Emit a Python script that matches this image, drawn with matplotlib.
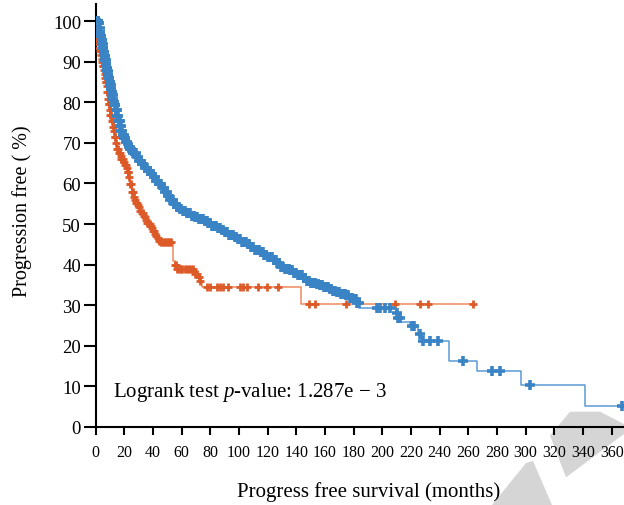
import numpy as np
import matplotlib
matplotlib.use("Agg")
import matplotlib.pyplot as plt
from matplotlib.patches import Polygon

plt.rcParams["font.family"] = ["Liberation Serif", "DejaVu Serif"]
plt.rcParams["mathtext.fontset"] = "custom"
plt.rcParams["mathtext.rm"] = "Liberation Serif"
plt.rcParams["mathtext.it"] = "Liberation Serif:italic"

# Kaplan-Meier step curve of the larger group (months, % progression free)
blue_time = [0, 1, 2, 2.5, 3, 3.5, 4, 4.5, 5, 5.5, 6, 6.5, 7, 7.5, 8, 8.5, 9, 9.5,
             10, 10.5, 11, 11.5, 12, 12.5, 13, 14, 15, 16, 17, 18, 19, 20, 21, 22,
             23, 24, 25, 26, 28, 30, 32, 34, 36, 38, 40, 42, 44, 46, 48, 50, 52, 54,
             56, 58, 60, 63, 66, 69, 72, 75, 78, 81, 84, 87, 90, 93, 96, 99, 102,
             105, 108, 111, 114, 117, 120, 123, 126, 129, 132, 135, 138, 141, 144,
             147, 150, 153, 156, 159, 162, 165, 168, 171, 174, 177, 180, 182, 183.6,
             209.5, 211, 212.5, 219, 225, 227.5, 246.5, 265.7, 296.7, 341.5, 369]
blue_surv = [100, 100, 99.4, 98.4, 97.4, 96.4, 95.4, 94.4, 93.4, 92.4, 91.5, 90.5,
             89.5, 88.5, 87.6, 86.8, 86.0, 85.1, 84.2, 83.3, 82.5, 81.7, 80.9, 80.1,
             79.4, 78.0, 76.6, 75.3, 74.1, 73.0, 72.0, 71.1, 70.3, 69.6, 68.9, 68.4,
             67.9, 67.4, 66.4, 65.5, 64.7, 63.9, 63.1, 62.3, 61.5, 60.6, 59.8, 58.9,
             58.0, 57.0, 56.0, 55.0, 54.1, 53.6, 53.2, 52.6, 52.1, 51.7, 51.3, 50.8,
             50.2, 49.6, 49.1, 48.6, 48.1, 47.4, 46.8, 46.2, 45.6, 45.0, 44.3, 43.6,
             43.0, 42.4, 41.8, 41.1, 40.3, 39.5, 39.0, 38.6, 38.0, 37.4, 36.8, 36.0,
             35.5, 35.2, 34.9, 34.5, 34.0, 33.6, 33.2, 32.8, 32.4, 31.9, 31.5, 30.6,
             29.2, 28.0, 26.8, 25.8, 24.9, 22.9, 21.2, 16.3, 13.9, 10.3, 5.1, 5.1]
blue_censor = [0.3, 0.6, 0.9, 1.2, 1.5, 1.8, 2.1, 2.4, 2.7, 3.0, 3.2, 3.5, 3.7, 3.9,
               4.2, 4.4, 4.7, 4.9, 5.2, 5.4, 5.7, 5.9, 6.2, 6.4, 6.7, 6.9, 7.2, 7.4,
               7.7, 7.9, 8.2, 8.4, 8.7, 8.9, 9.2, 9.4, 9.7, 9.9, 10.2, 10.4, 10.7,
               10.9, 11.2, 11.4, 11.7, 11.9, 12.2, 12.5, 12.8, 13.2, 13.6, 14.0,
               14.4, 14.8, 15.2, 15.6, 16.0, 16.4, 16.8, 17.2, 17.6, 18.0, 18.5, 19.0,
               19.5, 20.0, 20.6, 21.2, 21.8, 22.4, 23.0, 23.6, 24.2, 24.8, 25.4, 26.0,
               26.9, 27.8, 28.7, 29.6, 30.5, 31.4, 32.3, 33.2, 34.1, 35.0, 35.9, 36.8,
               37.7, 38.6, 39.5, 40.4, 41.3, 42.2, 43.1, 44.0, 44.9, 45.8, 46.7, 47.6,
               48.5, 49.4, 50.3, 51.2, 52.1, 53.0, 53.9, 54.8, 55.7, 56.6, 57.6, 58.7,
               59.8, 61.0, 62.2, 63.4, 64.6, 65.8, 67.0, 68.3, 69.6, 70.9, 72.2, 73.5,
               74.8, 76.1, 77.4, 78.7, 80.0, 81.3, 82.6, 83.9, 85.2, 86.5, 87.8, 89.1,
               90.4, 91.7, 93.0, 94.3, 95.6, 96.9, 98.2, 99.5, 100.8, 102.1, 103.4,
               104.7, 106.0, 107.3, 108.6, 109.9, 111.2, 112.5, 113.8, 115.1, 116.4,
               117.7, 119.0, 120.3, 121.6, 122.9, 124.2, 125.5, 126.8, 128.1, 129.4,
               130.7, 132.0, 133.3, 134.6, 135.9, 137.2, 138.5, 139.8, 141.1, 142.4,
               143.7, 145.0, 146.3, 147.6, 148.9, 150.2, 151.5, 152.8, 154.1, 155.4,
               156.7, 158.0, 159.3, 160.6, 161.9, 163.2, 164.5, 165.8, 167.1, 168.4,
               169.7, 171.0, 172.3, 173.6, 174.9, 176.2, 177.5, 178.8, 180.1, 181.4,
               182.3, 183.4,
               196.0, 198.5, 201.5, 205.0, 210.0, 211.0, 212.3, 221.0, 222.0, 226.0,
               228.5, 233.2, 239.0, 256.0, 276.4, 282.0, 303.0, 367.0]

# Kaplan-Meier step curve of the smaller group
orange_time = [0, 0.3, 1, 1.5, 2, 2.5, 3, 3.5, 4, 4.5, 5, 5.5, 6, 6.5, 7, 7.5, 8, 8.5,
               9, 9.5, 10, 11, 12, 12.5, 13, 14, 15, 16, 17, 18, 19, 20, 21, 22, 23,
               24, 25, 26, 27, 28, 29, 30, 31, 32, 33, 34, 35, 36, 37, 38, 39, 40, 41,
               42, 43, 44, 45, 54, 55, 56.5, 69, 71, 72.5, 74.5, 143, 264]
orange_surv = [100, 97.0, 96.0, 95.2, 94.3, 93.4, 92.5, 91.6, 90.7, 89.8, 88.9, 88.0,
               87.0, 86.0, 85.0, 84.0, 82.5, 80.8, 79.5, 78.0, 76.8, 75.3, 74.0, 73.0,
               71.4, 70.0, 68.5, 67.6, 66.8, 66.0, 65.3, 64.6, 63.8, 62.8, 61.5, 59.8,
               58.0, 56.7, 55.9, 55.2, 54.6, 54.1, 53.3, 52.6, 52.1, 51.7, 51.0, 50.3,
               49.9, 49.4, 48.9, 48.2, 47.6, 47.1, 46.6, 45.9, 45.5, 41.0, 40.0, 38.9,
               37.8, 37.0, 36.0, 34.6, 30.3, 30.3]
orange_censor = [0.2, 0.6, 1.0, 1.4, 1.8, 2.2, 2.6, 3.0, 3.4, 3.8, 4.2, 4.6, 5.0, 5.4,
                 5.8, 6.2, 6.6, 7.0, 7.4, 7.8, 8.2, 8.6, 9.0, 9.4, 9.8, 10.3, 10.8,
                 11.3, 11.8, 12.3, 12.8, 13.3, 13.8, 14.4, 15.0, 15.6, 16.2, 16.8,
                 17.4, 18.0, 18.7, 19.4, 20.1, 20.8, 21.5, 22.2, 22.8, 23.4, 24.0,
                 24.6, 25.2, 25.8, 26.5, 27.2, 28.0, 28.8, 29.6, 30.4, 31.2, 32.0,
                 32.8, 33.6, 34.4, 35.2, 36.0, 36.8, 37.6, 38.4, 39.2, 40.0, 40.8,
                 41.6, 42.4, 43.2, 44.0, 44.8, 45.6, 46.5, 47.4, 48.3, 49.5, 50.5,
                 51.5, 52.5, 55.0, 56.0, 57.0, 58.0, 59.5, 60.5, 62.0, 63.5, 65.0,
                 66.5, 68.0, 69.5, 70.5, 72.0, 73.0, 77.4, 79.7, 84.4, 86.7, 89.0,
                 92.5, 100.7, 103.0, 105.3, 113.4, 119.3, 127.4, 148.7, 153.3, 174.3,
                 208.8, 226.5, 231.8, 263.5]

x_ticks = list(range(0, 361, 20))
y_ticks = list(range(0, 101, 10))
pvalue_text = "Logrank test $p$-value: 1.287e \u2212 3"

BLUE_MARK, BLUE_LINE = "#3a84c6", "#5b9bd5"
ORANGE_MARK, ORANGE_LINE = "#dc5a28", "#ef8a5e"


def surv_at(times, surv, t):
    """Value of the step curve (right-continuous) at times t."""
    times = np.asarray(times)
    surv = np.asarray(surv)
    idx = np.searchsorted(times, np.asarray(t), side="right") - 1
    return surv[np.clip(idx, 0, len(surv) - 1)]


fig = plt.figure(figsize=(6.24, 5.06), dpi=100)
fig.patch.set_facecolor("white")

# light grey background ribbon shapes (figure pixel coordinates)
W, H = 624.0, 506.0
ribbons = [
    [(570, 412.7), (600, 412.7), (624, 425), (624, 435), (566, 478.3), (550, 436.7)],
    [(492, 506), (526, 464), (533, 462), (552, 506)],
]
for pts in ribbons:
    fig.add_artist(Polygon([(x / W, 1 - y / H) for x, y in pts], closed=True,
                           transform=fig.transFigure, facecolor="#d5d5d5",
                           edgecolor="none", zorder=-1))

ax = fig.add_axes([95.7 / W, 78 / H, (W - 95.7) / W, 423 / H])
ax.patch.set_visible(False)

ax.step(orange_time, orange_surv, where="post", color=ORANGE_LINE, lw=1.1, zorder=2)
ax.plot(orange_censor, surv_at(orange_time, orange_surv, orange_censor), ls="none",
        marker="+", ms=5.5, mew=2.0, color=ORANGE_MARK, zorder=3)

ax.step(blue_time, blue_surv, where="post", color=BLUE_LINE, lw=1.1, zorder=4)
ax.plot(blue_censor, surv_at(blue_time, blue_surv, blue_censor), ls="none",
        marker="+", ms=6.5, mew=2.6, color=BLUE_MARK, zorder=5)

ax.set_xlim(0, 368.6)
ax.set_ylim(0, 104.2)
ax.set_xticks(x_ticks)
ax.set_yticks(y_ticks)
ax.tick_params(axis="y", length=8.5, width=1.5, pad=2, labelsize=13.5, colors="black")
ax.tick_params(axis="x", length=6, width=1.5, pad=6, labelsize=11.5, colors="black")
for side in ("top", "right"):
    ax.spines[side].set_visible(False)
for side in ("left", "bottom"):
    ax.spines[side].set_linewidth(1.5)
    ax.spines[side].set_color("black")

ax.set_xlabel("Progress free survival (months)", fontsize=15)
ax.xaxis.set_label_coords(0.517, -0.128)
ax.set_ylabel("Progression free ( %)", fontsize=14.5)
ax.yaxis.set_label_coords(-0.12, 0.513)

ax.text(12, 7.7, pvalue_text, fontsize=15, ha="left", va="baseline")

fig.savefig("out.png", dpi=100)
